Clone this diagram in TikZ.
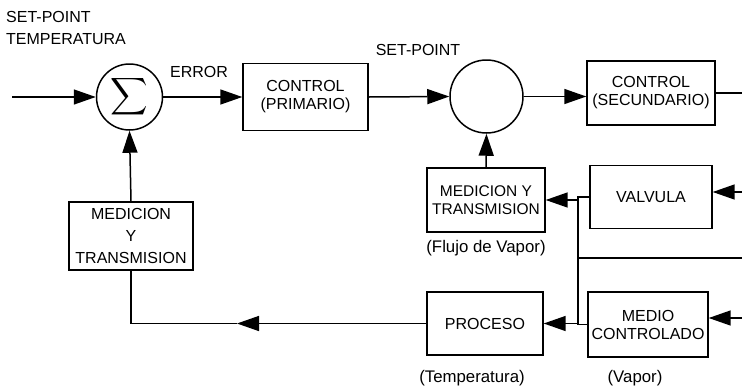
\documentclass[tikz,border=0pt]{standalone}
\usepackage{fontspec}
\setmainfont{Liberation Sans}
\usetikzlibrary{arrows.meta}
\newcommand{\boxfont}{\fontsize{16}{18}\selectfont}
\newcommand{\lblfont}{\fontsize{16}{21.5}\selectfont}
\newcommand{\lowfont}{\fontsize{16.8}{20}\selectfont}
\tikzset{
  box/.style={draw, line width=1.4pt, align=center, inner sep=0pt, font=\boxfont},
  summer/.style={draw, circle, line width=1.5pt, inner sep=0pt},
  conn/.style={line width=1.5pt},
  arr/.style={conn, -{Triangle[length=22pt,width=15pt]}},
  lbl/.style={font=\lblfont, inner sep=0pt},
  lowlbl/.style={font=\lowfont, inner sep=0pt}
}
\begin{document}
\begin{tikzpicture}[x=1pt,y=-1pt]
\useasboundingbox (0,0) rectangle (742,389);
% labels
\node[lbl, anchor=west, align=left] (spt) at (6,28) {SET-POINT\\TEMPERATURA};
\node[lbl] (err) at (199,72) {ERROR};
\node[lbl] (sp2) at (418,50) {SET-POINT};
\node[lowlbl] (fv) at (486,248) {(Flujo de Vapor)};
\node[lowlbl] (tmp) at (472,378) {(Temperatura)};
\node[lowlbl] (vap) at (635,378) {(Vapor)};
% nodes
\node[summer, minimum size=66pt] (sum) at (129.5,97) {\scalebox{2.6}{$\displaystyle\sum$}};
\node[box, minimum width=125pt, minimum height=67pt] (cp) at (305.5,97) {CONTROL\\(PRIMARIO)};
\node[summer, minimum size=73pt] (sp) at (486.5,96.5) {};
\node[box, minimum width=128pt, minimum height=64pt] (cs) at (651,93) {CONTROL\\(SECUNDARIO)};
\node[box, minimum width=118pt, minimum height=64pt, font=\fontsize{15.5}{18}\selectfont] (mt2) at (486,200) {MEDICION Y\\TRANSMISION};
\node[box, minimum width=122pt, minimum height=63pt] (val) at (651,197) {VALVULA};
\node[box, minimum width=124pt, minimum height=68pt, font=\fontsize{16}{22}\selectfont] (mt1) at (131,236) {MEDICION\\Y\\TRANSMISION};
\node[box, minimum width=116pt, minimum height=63pt] (proc) at (485,323.5) {PROCESO};
\node[box, minimum width=120pt, minimum height=65pt] (mc) at (648,324.5) {MEDIO\\CONTROLADO};
% coordinates
\coordinate (inp) at (12,97);
\coordinate (csout) at (742,93);
\coordinate (valin) at (742,192);
\coordinate (mcin) at (742,318);
\coordinate (jtop) at (578,197);
\coordinate (jbot) at (578,324.5);
\coordinate (jmt) at (578,200);
\coordinate (jpr) at (578,323.5);
\coordinate (hl) at (578,258);
\coordinate (hr) at (742,258);
\coordinate (midb) at (237,323.5);
% connectors
\draw[arr] (inp) -- (sum.west);
\draw[arr] (sum.east) -- (cp.west);
\draw[arr] (cp.east) -- (sp.west);
\draw[arr] (sp.east) -- (sp.east -| cs.west);
\draw[conn] (cs.east) -- (csout);
\draw[arr] (mt2.north) -- (sp.south);
\draw[arr] (valin) -- (valin -| val.east);
\draw[conn] (val.west) -- (jtop) -- (jbot) -- (mc.west);
\draw[arr] (jmt) -- (mt2.east);
\draw[arr] (jpr) -- (proc.east);
\draw[conn] (hl) -- (hr);
\draw[arr] (mcin) -- (mcin -| mc.east);
\draw[arr] (proc.west) -- (midb);
\draw[conn] (midb) -- (mt1.south |- midb) -- (mt1.south);
\draw[arr] (mt1.north) -- (sum.south);
\end{tikzpicture}
\end{document}
